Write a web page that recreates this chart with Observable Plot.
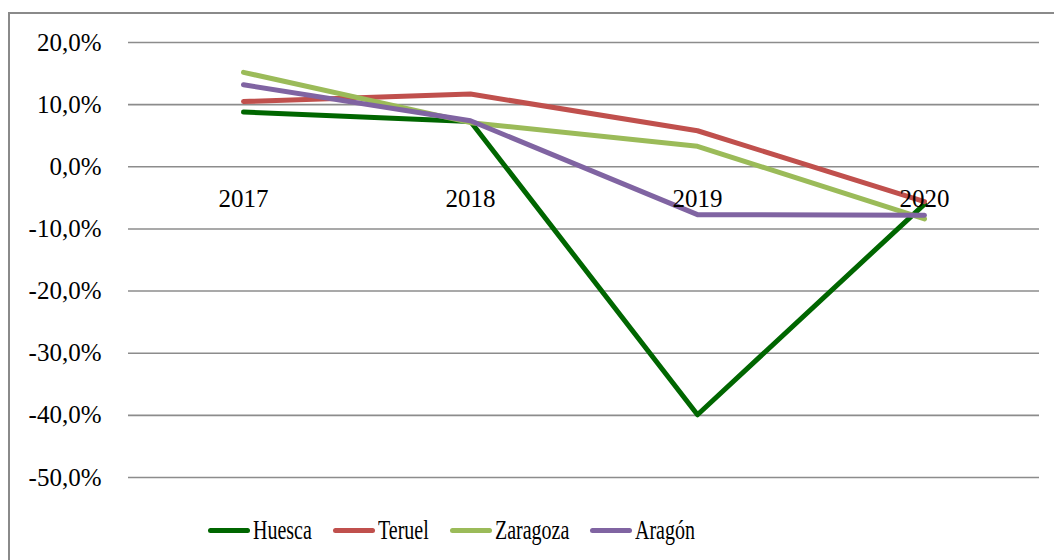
<!DOCTYPE html>
<html>
<head>
<meta charset="utf-8">
<script src="https://cdn.jsdelivr.net/npm/d3@7"></script>
<script src="https://cdn.jsdelivr.net/npm/@observablehq/plot@0.6"></script>
<style>
  html, body { margin: 0; padding: 0; background: #fff; }
  #wrap { position: relative; width: 1054px; height: 560px; overflow: hidden; font-family: "Liberation Serif", "Times New Roman", serif; }
  #frame { position: absolute; left: 8px; top: 12px; width: 1100px; height: 600px; border-left: 2px solid #8a8a8a; border-top: 2px solid #8a8a8a; }
  #chart { position: absolute; left: 0; top: 0; }
  #legend { position: absolute; left: 208px; top: 512px; display: flex; align-items: center; height: 36px; }
  .item { display: flex; align-items: center; margin-right: 21px; }
  .swatch { width: 42px; height: 5px; border-radius: 3px; margin-right: 3px; }
  .lab { display: inline-block; font-size: 27px; color: #000; transform: scaleX(0.74); transform-origin: left center; white-space: nowrap; }
</style>
</head>
<body>
<div id="wrap">
  <div id="frame"></div>
  <div id="chart"></div>
  <div id="legend"></div>
</div>
<script>
const years = ["2017", "2018", "2019", "2020"];
const seriesNames = ["Huesca", "Teruel", "Zaragoza", "Aragón"];
const seriesColors = ["#006600", "#C0504D", "#9BBB59", "#8064A2"];
const huesca = [8.8, 7.3, -39.9, -6.0];
const teruel = [10.5, 11.7, 5.8, -5.6];
const zaragoza = [15.2, 7.1, 3.3, -8.4];
const aragon = [13.2, 7.4, -7.7, -7.8];
const yTicks = [20, 10, 0, -10, -20, -30, -40, -50];

const seriesValues = [huesca, teruel, zaragoza, aragon];
const rows = [];
seriesNames.forEach((s, i) => years.forEach((y, j) => rows.push({series: s, year: y, value: seriesValues[i][j]})));

const fmt = v => d3.format(".1f")(v).replace("−", "-").replace(".", ",") + "%";

const plot = Plot.plot({
  width: 1054,
  height: 505,
  marginLeft: 128,
  marginRight: 15,
  marginTop: 42,
  marginBottom: 28,
  style: { fontFamily: "'Liberation Serif', 'Times New Roman', serif", fontSize: "25px", background: "transparent", color: "#000" },
  x: { type: "point", domain: years, padding: 0.5, axis: null },
  y: { domain: [-50, 20], axis: null },
  color: { domain: seriesNames, range: seriesColors },
  marks: [
    Plot.ruleY(yTicks, { stroke: "#8c8c8c", strokeWidth: 1.6 }),
    Plot.axisY(yTicks, { tickSize: 0, tickPadding: 27, tickFormat: fmt, fontSize: 25, textAnchor: "end", fill: "#000", label: null }),
    ...seriesNames.map(s => Plot.line(rows.filter(r => r.series === s), {
      x: "year", y: "value", stroke: "series", strokeWidth: 5, strokeLinecap: "round", strokeLinejoin: "round"
    })),
    Plot.text(years, { x: d => d, y: () => 0, text: d => d, dy: 32, fontSize: 25, fill: "#000" })
  ]
});
document.getElementById("chart").appendChild(plot);

const legend = document.getElementById("legend");
seriesNames.forEach((s, i) => {
  const item = document.createElement("div");
  item.className = "item";
  const sw = document.createElement("span");
  sw.className = "swatch";
  sw.style.background = seriesColors[i];
  const lab = document.createElement("span");
  lab.className = "lab";
  lab.textContent = s;
  item.appendChild(sw);
  item.appendChild(lab);
  legend.appendChild(item);
  const w = lab.offsetWidth;
  lab.style.marginRight = (-(1 - 0.74) * w) + "px";
});
</script>
</body>
</html>
